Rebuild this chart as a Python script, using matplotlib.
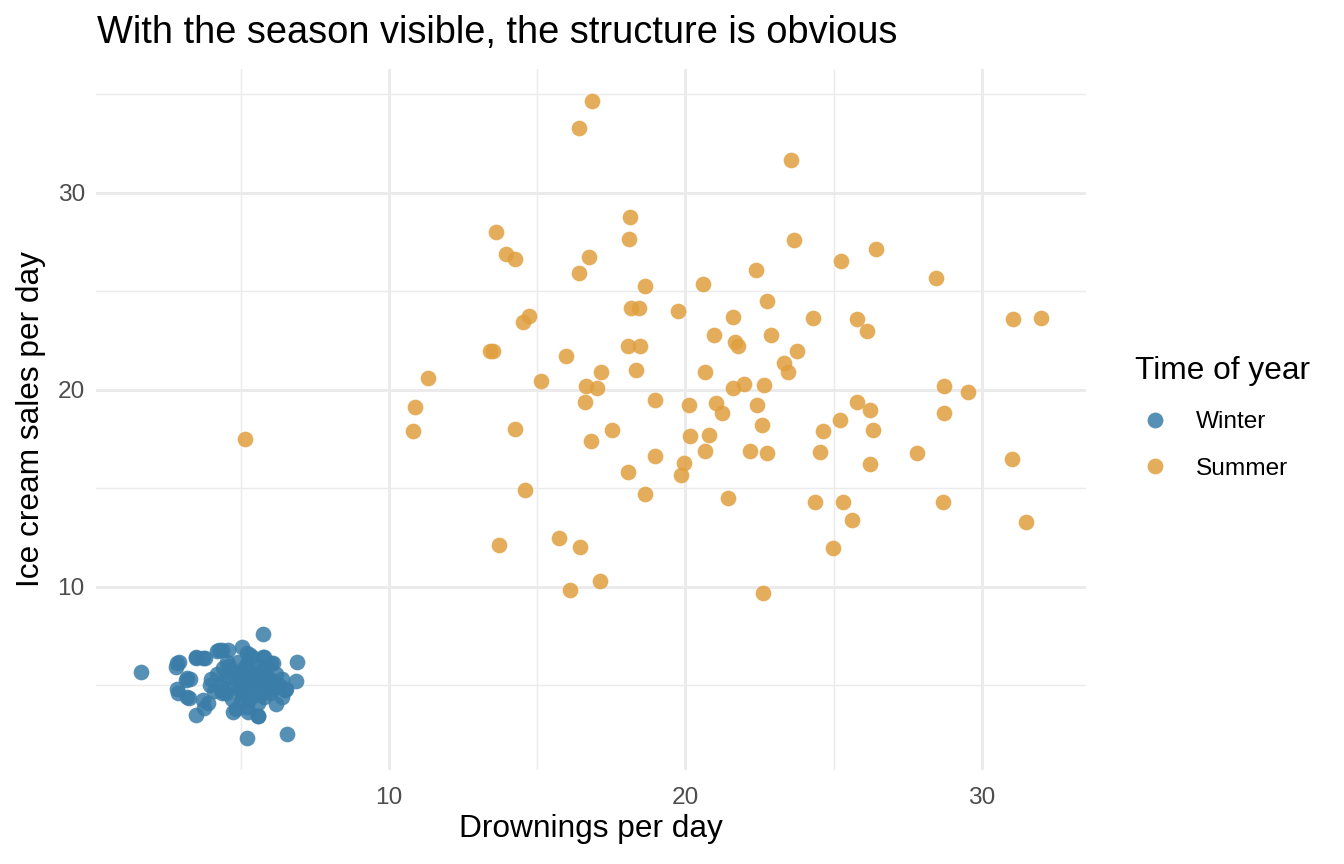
import numpy as np
import matplotlib
matplotlib.use('Agg')
import matplotlib.pyplot as plt
from matplotlib.lines import Line2D

plt.rcParams['font.family'] = ['Liberation Sans', 'DejaVu Sans']

# summer days: drownings, ice cream sales
summer_x = [5.14, 16.85, 16.41, 23.55, 18.13, 18.09, 13.62, 13.95, 14.27, 16.74,
            16.41, 18.64, 20.60, 18.16, 18.44, 19.76, 21.61, 14.73, 14.51, 20.97,
            21.67, 18.06, 18.48, 21.78, 13.42, 13.50, 15.98, 11.33, 15.12, 17.15,
            18.33, 20.65, 16.64, 17.03, 21.61, 10.88, 10.80, 16.62, 18.98, 20.13,
            21.03, 21.25, 14.26, 17.52, 16.80, 20.17, 20.80, 20.65, 18.98, 19.96,
            19.84, 18.07, 18.64, 21.44, 14.59, 13.72, 15.74, 16.45, 17.12, 16.11,
            23.65, 22.38, 25.24, 26.43, 28.46, 22.76, 24.31, 25.77, 26.11, 22.89,
            23.75, 23.34, 23.47, 31.06, 31.99, 21.97, 22.64, 28.73, 29.54, 22.42,
            25.77, 26.22, 25.21, 24.63, 26.31, 28.71, 22.58, 22.19, 22.75, 24.53,
            26.22, 27.82, 31.00, 24.36, 25.32, 28.68, 25.62, 31.49, 24.98, 22.62]
summer_y = [17.50, 34.69, 33.32, 31.66, 28.77, 27.68, 28.00, 26.90, 26.63, 26.75,
            25.92, 25.25, 25.38, 24.15, 24.15, 24.03, 23.69, 23.77, 23.47, 22.79,
            22.44, 22.25, 22.25, 22.25, 22.00, 22.00, 21.70, 20.62, 20.46, 20.93,
            21.03, 20.90, 20.20, 20.12, 20.09, 19.12, 17.93, 19.39, 19.49, 19.22,
            19.32, 18.83, 18.00, 17.98, 17.40, 17.65, 17.72, 16.92, 16.65, 16.31,
            15.69, 15.82, 14.71, 14.53, 14.92, 12.10, 12.47, 12.00, 10.29, 9.85,
            27.61, 26.08, 26.53, 27.14, 25.70, 24.52, 23.67, 23.62, 23.00, 22.81,
            22.00, 21.39, 20.93, 23.60, 23.67, 20.30, 20.24, 20.22, 19.90, 19.25,
            19.41, 19.00, 18.46, 17.92, 17.97, 18.82, 18.22, 16.89, 16.79, 16.85,
            16.26, 16.80, 16.50, 14.31, 14.33, 14.30, 13.37, 13.28, 11.96, 9.68]

# winter days
winter_x = [1.64, 5.74, 6.89, 6.86, 5.20, 6.57, 3.49, 5.60, 2.84, 2.92,
            2.82, 3.49, 3.79, 4.19, 4.36, 5.05, 5.23, 5.37, 5.76, 6.04,
            3.15, 3.29, 2.84, 2.89, 3.25, 3.74, 3.89, 3.77, 6.21, 6.49,
            6.38, 4.86, 5.26, 4.36, 4.27, 3.51, 3.74, 3.18, 3.18, 3.96,
            4.53, 4.41, 4.76, 5.31, 5.79, 6.10, 6.53, 5.59, 4.58, 4.92,
            6.04, 6.16, 4.20, 4.40, 4.60, 4.80, 4.90, 5.00, 5.10, 5.20,
            5.30, 5.40, 5.50, 5.60, 5.70, 5.80, 5.90, 6.00, 6.10, 4.50,
            4.70, 5.00, 5.30, 5.60, 5.80, 4.30, 4.00, 4.10, 4.60, 5.20,
            5.50, 5.90, 6.20, 6.30, 4.80, 5.10, 5.40, 5.70, 4.40, 5.00,
            5.30, 5.60, 5.90, 6.10, 4.90, 5.20, 5.50, 5.80, 4.60, 6.40]
winter_y = [5.70, 7.60, 6.19, 5.21, 2.32, 2.52, 3.49, 3.45, 6.13, 6.19,
            5.92, 6.41, 6.41, 6.74, 6.80, 6.97, 6.63, 6.46, 6.46, 6.13,
            5.28, 5.31, 4.82, 4.63, 4.38, 4.26, 4.10, 3.84, 4.03, 4.77,
            4.43, 3.82, 3.67, 4.60, 6.80, 6.46, 6.38, 5.37, 4.43, 5.03,
            6.21, 4.69, 3.67, 6.55, 6.46, 6.13, 4.81, 3.42, 6.80, 6.21,
            5.28, 4.94, 5.60, 5.20, 5.80, 5.00, 5.50, 4.70, 5.90, 5.30,
            4.90, 5.60, 4.50, 5.20, 5.80, 4.80, 5.40, 4.60, 5.10, 4.60,
            4.30, 4.20, 4.30, 4.10, 4.40, 4.90, 5.30, 4.70, 6.00, 6.10,
            6.00, 6.00, 5.60, 5.00, 5.70, 4.50, 5.00, 4.60, 5.90, 5.20,
            5.70, 5.50, 5.10, 4.80, 4.90, 3.90, 5.30, 5.60, 5.40, 5.30]

winter_col = '#3A7DA8'
summer_col = '#E09F3E'

fig = plt.figure(figsize=(6.72, 4.32), dpi=200)
ax = fig.add_axes([0.0714, 0.1088, 0.7366, 0.8117])

ax.scatter(winter_x, winter_y, s=32, color=winter_col, alpha=0.85, linewidths=0, zorder=3)
ax.scatter(summer_x, summer_y, s=32, color=summer_col, alpha=0.85, linewidths=0, zorder=3)
ax.margins(0.05)

# theme_minimal look
for sp in ax.spines.values():
    sp.set_visible(False)
ax.set_xticks([10, 20, 30])
ax.set_yticks([10, 20, 30])
ax.set_xticks([5, 15, 25], minor=True)
ax.set_yticks([5, 15, 25, 35], minor=True)
ax.grid(which='major', color='#EBEBEB', linewidth=1.07)
ax.grid(which='minor', color='#EBEBEB', linewidth=0.53)
ax.set_axisbelow(True)
ax.tick_params(which='both', length=0)
ax.tick_params(axis='x', labelsize=8.8, labelcolor='#4D4D4D', pad=6)
ax.tick_params(axis='y', labelsize=8.8, labelcolor='#4D4D4D', pad=4)

ax.set_xlabel('Drownings per day', fontsize=11.4, labelpad=2)
ax.set_ylabel('Ice cream sales per day', fontsize=11.4, labelpad=4)
fig.text(0.072, 0.962, 'With the season visible, the structure is obvious',
         fontsize=13.7, ha='left', va='center')

handles = [Line2D([], [], marker='o', ls='', color=winter_col, alpha=0.85, markersize=5.7, markeredgewidth=0),
           Line2D([], [], marker='o', ls='', color=summer_col, alpha=0.85, markersize=5.7, markeredgewidth=0)]
leg = fig.legend(handles, ['Winter', 'Summer'], title='Time of year', loc='upper left',
                 bbox_to_anchor=(0.8445, 0.588), frameon=False, fontsize=8.8,
                 title_fontsize=11.4, handlelength=1.6, handletextpad=0.9,
                 labelspacing=1.0, borderpad=0, borderaxespad=0)
leg._legend_box.align = 'left'
leg._legend_box.sep = 9

fig.savefig('out.png', dpi=200)
